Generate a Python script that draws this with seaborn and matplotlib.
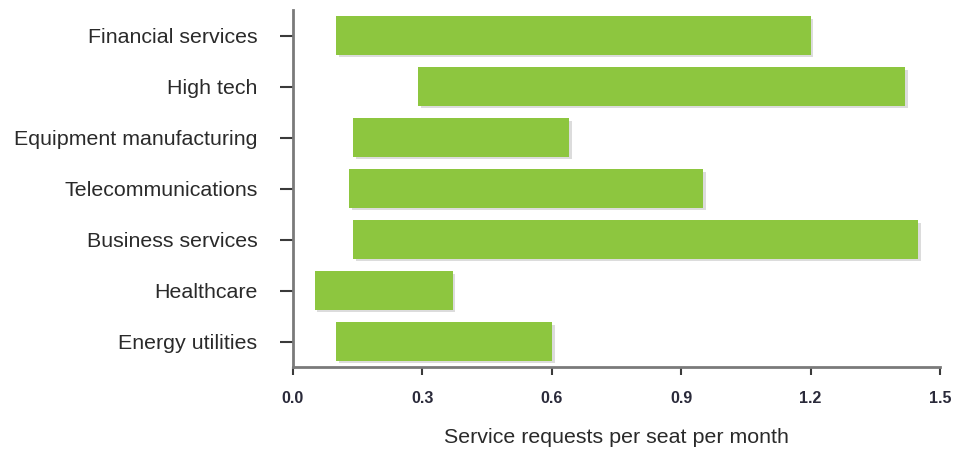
import numpy as np
import pandas as pd
import matplotlib
matplotlib.use("Agg")
import matplotlib.pyplot as plt
import seaborn as sns
from matplotlib import patheffects as pe

categories = ["Financial services", "High tech", "Equipment manufacturing",
              "Telecommunications", "Business services", "Healthcare",
              "Energy utilities"]
range_start = [0.10, 0.29, 0.14, 0.13, 0.14, 0.05, 0.10]
range_end = [1.20, 1.42, 0.64, 0.95, 1.45, 0.37, 0.60]
x_ticks = [0.0, 0.3, 0.6, 0.9, 1.2, 1.5]
x_tick_labels = ["0.0", "0.3", "0.6", "0.9", "1.2", "1.5"]
x_title = "Service requests per seat per month"

df = pd.DataFrame({"category": categories, "start": range_start, "end": range_end})
df["span"] = df["end"] - df["start"]

sns.set_theme(style="white")
plt.rcParams["font.family"] = ["Liberation Sans", "DejaVu Sans"]

fig = plt.figure(figsize=(9.56, 4.5), dpi=100)
ax = fig.add_axes([293 / 956, 83 / 450, 647 / 956, 357 / 450])

sns.barplot(data=df, y="category", x="span", orient="h", color="#8DC63F",
            saturation=1, width=0.75, linewidth=0, ax=ax)

shadow = [pe.SimplePatchShadow(offset=(2, -2), shadow_rgbFace="#a8a8a8", alpha=0.4),
          pe.Normal()]
for patch, s in zip(ax.patches, df["start"]):
    patch.set_x(s)
    patch.set_path_effects(shadow)

ax.set_xlim(0, 1.5)
ax.set_xticks(x_ticks)
ax.set_xticklabels(x_tick_labels, fontweight="bold")
ax.set_ylabel("")
ax.set_xlabel(x_title, fontsize=15.4, color="#2a2a2a", labelpad=16)

sns.despine(ax=ax, top=True, right=True)
for side in ("left", "bottom"):
    ax.spines[side].set_color("#7a7a7a")
    ax.spines[side].set_linewidth(2)

ax.tick_params(axis="y", left=True, length=9.5, width=1.5, color="#3a3a3a",
               pad=16, labelsize=15.4, labelcolor="#2a2a2a")
ax.tick_params(axis="x", bottom=True, direction="out", length=6, width=1.5,
               color="#3a3a3a", pad=11, labelsize=11.5, labelcolor="#2a2a3a")

fig.savefig("out.png", dpi=100)
